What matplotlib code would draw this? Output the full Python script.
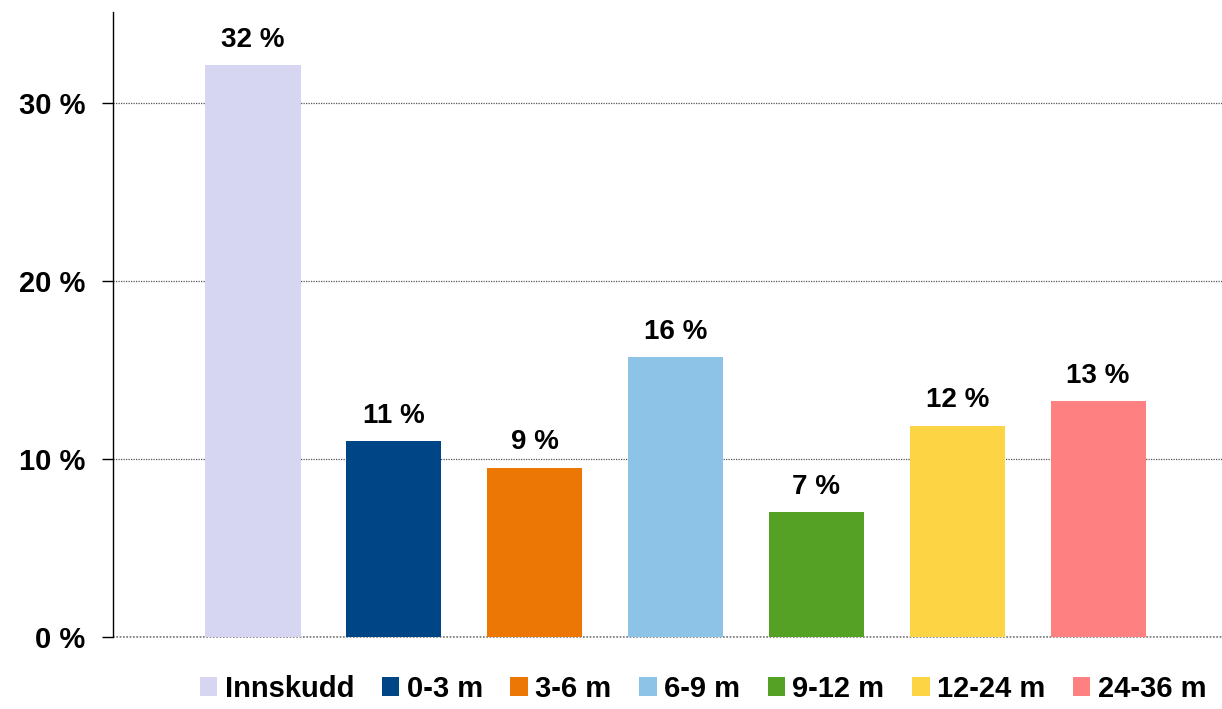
import matplotlib
matplotlib.use('Agg')
import matplotlib.pyplot as plt

categories = ["Innskudd", "0-3 m", "3-6 m", "6-9 m", "9-12 m", "12-24 m", "24-36 m"]
values = [32.1, 11.0, 9.5, 15.7, 7.0, 11.85, 13.25]
labels = ["32 %", "11 %", "9 %", "16 %", "7 %", "12 %", "13 %"]
colors = ["#D6D6F3", "#004687", "#EC7704", "#8DC3E6", "#54A125", "#FDD444", "#FF8080"]
yticks = [0, 10, 20, 30]

plt.rcParams['font.family'] = ['Liberation Sans', 'DejaVu Sans']
plt.rcParams['font.weight'] = 'bold'

fig = plt.figure(figsize=(12.22, 7.09), dpi=100)
ax = fig.add_axes([0.0925, 0.1016, 0.9075, 0.8814])

for i, (cat, v, lab, c) in enumerate(zip(categories, values, labels, colors)):
    ax.bar(i, v, width=0.675, color=c, label=cat, zorder=2)
    ax.annotate(lab, (i, v), xytext=(0, 9), textcoords="offset points",
                ha="center", va="bottom", fontsize=20, fontweight="bold")

ax.set_xlim(-0.994, 6.88)
ax.set_ylim(0, 35.1)
ax.set_yticks(yticks)
ax.set_yticklabels([f"{t} %" for t in yticks], fontsize=21, fontweight="bold")
ax.set_xticks([])
ax.yaxis.grid(True, color="#555555", linestyle=(0, (1, 1)), linewidth=0.9, zorder=0)
ax.axhline(0, color="#777777", linestyle=(0, (1, 1)), linewidth=1.2, clip_on=False, zorder=1)
ax.set_axisbelow(True)
ax.tick_params(axis="y", direction="out", length=8, width=1, pad=12)
for s in ["top", "right", "bottom"]:
    ax.spines[s].set_visible(False)
ax.spines["left"].set_linewidth(1)

ax.legend(loc="center", bbox_to_anchor=(0.532, -0.083), ncol=7, frameon=False,
          handlelength=0.6, handleheight=0.6, handletextpad=0.25,
          columnspacing=0.95, borderpad=0.2, prop={'weight': 'bold', 'size': 21})

fig.savefig("out.png", dpi=100)
plt.close(fig)
